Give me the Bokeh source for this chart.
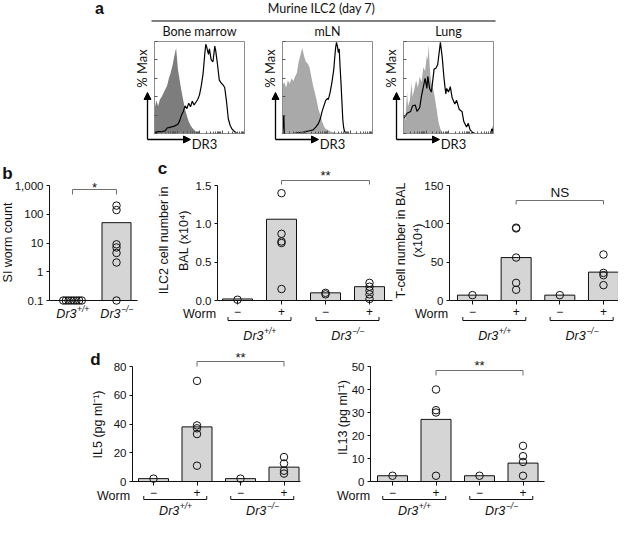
import numpy as np
from bokeh.plotting import figure
from bokeh.models import (Range1d, LinearAxis, LogAxis, FixedTicker, Arrow,
                          NormalHead, Spacer, PrintfTickFormatter)
from bokeh.layouts import column, row
from bokeh.core.properties import value
from bokeh.embed import file_html
from bokeh.resources import INLINE

# ---------------- data ----------------
# panel a: DR3 histograms (x: % of DR3 axis width, y: % Max)
hist_titles = ["Bone marrow", "mLN", "Lung"]
bm_iso_x = [0, 2, 4, 6, 8, 10, 12, 14, 16, 18, 20, 22, 24, 25, 26, 28, 30, 32, 34, 36, 38, 40, 42, 44, 46, 48, 50]
bm_iso_y = [26, 36, 30, 37, 40, 44, 48, 52, 60, 66, 74, 84, 93, 82, 70, 58, 46, 36, 26, 19, 13, 9, 6, 4, 2, 1, 0]
bm_dr3_x = [0, 4, 8, 12, 14, 18, 22, 26, 28, 30, 32, 34, 36, 38, 40, 42, 44, 46, 48, 50, 52, 54, 56, 57, 58, 60,
            61, 63, 65, 67, 68, 70, 72, 74, 76, 78, 80, 82, 84, 86, 88, 90, 92, 100]
bm_dr3_y = [1, 2, 2, 3, 6, 7, 8, 10, 14, 20, 24, 30, 27, 33, 29, 35, 31, 34, 37, 42, 52, 65, 88, 97, 94, 86,
            92, 80, 78, 95, 90, 75, 58, 55, 53, 50, 35, 16, 9, 5, 3, 1, 0, 0]
mln_iso_x = [0, 2, 4, 6, 8, 10, 12, 14, 16, 18, 20, 22, 24, 26, 28, 30, 32, 34, 36, 38, 40, 42, 44, 46, 48, 50, 54, 58, 60]
mln_iso_y = [52, 56, 50, 58, 54, 60, 57, 62, 66, 78, 86, 93, 84, 78, 76, 72, 62, 52, 44, 36, 26, 20, 13, 8, 5, 4, 2, 1, 0]
mln_dr3_x = [0, 1, 1.5, 2, 6, 12, 18, 22, 26, 30, 34, 37, 40, 42, 44, 46, 48, 50, 51, 53, 55, 57, 58, 59, 60, 61,
             62, 63, 64, 65, 66, 67, 68, 69, 71, 80, 100]
mln_dr3_y = [0, 18, 20, 0, 0, 0, 1, 1, 2, 3, 4, 7, 11, 16, 24, 30, 36, 38, 37, 45, 56, 70, 82, 93, 99, 95,
             88, 92, 72, 55, 35, 15, 6, 2, 0, 0, 0]
lung_iso_x = [0, 2, 4, 5, 7, 9, 10, 12, 14, 16, 18, 20, 22, 24, 26, 27, 28, 29, 30, 31, 33, 35, 37, 39, 41, 43, 45]
lung_iso_y = [20, 14, 45, 30, 36, 55, 40, 48, 58, 50, 62, 56, 72, 68, 85, 80, 97, 75, 62, 55, 48, 38, 25, 12, 5, 1, 0]
lung_dr3_x = [0, 4, 8, 10, 13, 15, 18, 20, 24, 26, 27, 29, 31, 34, 36, 38, 41, 43, 45, 47, 48, 50, 52, 54, 57,
              59, 62, 65, 67, 70, 72, 74, 77, 80, 90, 97, 98, 99, 100]
lung_dr3_y = [16, 22, 24, 30, 31, 24, 28, 41, 60, 49, 62, 49, 45, 70, 71, 75, 99, 83, 60, 43, 49, 45, 51, 39, 32,
              36, 26, 24, 13, 7, 11, 4, 1, 0, 0, 0, 5, 2, 8]

# panel b: SI worm count (log scale)
b_sup = ["+/+", "\u2212/\u2212"]
b_bar = [0.1, 51]
b_wt_points = [0.1, 0.1, 0.1, 0.1, 0.1, 0.1, 0.1, 0.1]
b_ko_points = [200, 140, 9, 7, 4.5, 2.1, 0.1]
b_ticks = [0.1, 1, 10, 100, 1000]
b_tick_labels = ["0.1", "1", "10", "100", "1,000"]

# panels c, d: four groups (worm -, +) x (Dr3+/+, Dr3-/-)
worm_labels = ["\u2212", "+", "\u2212", "+"]
geno_sup = ["+/+", "\u2212/\u2212"]
ilc2_bars = [0.02, 1.06, 0.10, 0.18]
ilc2_points = [[0.01], [1.40, 0.87, 0.77, 0.75, 0.15], [0.10, 0.08], [0.23, 0.18, 0.13, 0.08, 0.02]]
tcell_bars = [7, 56, 7, 37]
tcell_points = [[7], [95, 94, 56, 23, 14], [7], [60, 36, 33, 20]]
il5_bars = [2, 38, 2, 10]
il5_points = [[2], [70, 39, 37, 33, 11], [2], [17, 12.5, 7.5, 5.5]]
il13_bars = [2.5, 27, 2.5, 8]
il13_points = [[2.5], [40, 31, 30, 2.5], [2.5], [15.5, 11, 8.5, 2.5]]

# ---------------- styling helpers ----------------
FONT = "Liberation Sans"
HFONT = "Lato"
INK = "#111111"
BAR = "#d5d5d5"
SIG = "#6f6f6f"
STAR_UP = 3.0   # asterisk glyph sits above the text middle


def base_fig(w, h, xr, yr, ylog=False):
    p = figure(width=int(w), height=int(h), x_range=xr, y_range=yr,
               x_axis_type=None, y_axis_type=("log" if ylog else None),
               y_axis_location=None, output_backend="svg", toolbar_location=None,
               title=None, min_border=0, outline_line_color=None,
               background_fill_color="white", border_fill_color="white")
    p.grid.visible = False
    return p


def txt(p, x, y, s, size="12px", font=FONT, align="center", baseline="middle",
        angle=0.0, style="normal", color=INK, x_off=0, y_off=0):
    p.text(x=[x], y=[y], text=[s], text_font=value(font), text_font_size=size,
           text_align=align, text_baseline=baseline, angle=angle,
           text_font_style=style, text_color=color, x_offset=x_off, y_offset=y_off)


def geno(p, x, y, sup):
    txt(p, x, y, "Dr3", size="12.5px", style="italic", align="right", x_off=4)
    txt(p, x, y, sup, size="8.5px", style="italic", align="left", x_off=4.5, y_off=-4.5)


def axis_style(ax, size="11.5px"):
    ax.axis_line_color = INK
    ax.axis_line_width = 1
    ax.major_tick_line_color = INK
    ax.major_tick_in = 0
    ax.major_tick_out = 3
    ax.minor_tick_in = 0
    ax.minor_tick_out = 0
    ax.major_label_text_font = FONT
    ax.major_label_text_font_size = size
    ax.major_label_text_color = INK
    ax.major_label_standoff = 3


# ---------------- panel a ----------------
HDR_H = 22
ROW1_H = 152


def hist_panel(fx0, fx1, bl, title, iso_x, iso_y, dr3_x, dr3_y, iso_color):
    BW, BT, BB, FY0, FY1 = 90.0, 41.0, 133.0, float(HDR_H), float(ROW1_H)
    sx, sy = BW / 100.0, (BB - BT) / 100.0
    X = lambda px: (px - bl) / sx
    Y = lambda py: (BB - py) / sy
    p = base_fig(fx1 - fx0, FY1 - FY0, Range1d(X(fx0), X(fx1)), Range1d(Y(FY1), Y(FY0)))
    p.varea(x=iso_x, y1=0, y2=iso_y, fill_color=iso_color)
    p.line(x=dr3_x, y=dr3_y, line_color="black", line_width=1.2)
    box = "#8d8d8d"
    minor = [d + 25 * np.log10(k) for d in (0, 25, 50, 75) for k in range(2, 10)]
    bot = LinearAxis(fixed_location=0, bounds=(0, 100),
                     ticker=FixedTicker(ticks=[0, 25, 50, 75, 100], minor_ticks=minor),
                     major_label_overrides={0: "", 25: "", 50: "", 75: "", 100: ""})
    lef = LinearAxis(fixed_location=0, bounds=(0, 100),
                     ticker=FixedTicker(ticks=[0, 20, 40, 60, 80, 100], minor_ticks=[]),
                     major_label_overrides={0: "", 20: "", 40: "", 60: "", 80: "", 100: ""})
    for a in (bot, lef):
        a.axis_line_color = box
        a.major_tick_line_color = "#555555"
        a.minor_tick_line_color = "#555555"
        a.major_tick_in = 3
        a.major_tick_out = 0
        a.minor_tick_in = 2
        a.minor_tick_out = 0
    top = LinearAxis(fixed_location=100, bounds=(0, 100), ticker=FixedTicker(ticks=[], minor_ticks=[]))
    rig = LinearAxis(fixed_location=100, bounds=(0, 100), ticker=FixedTicker(ticks=[], minor_ticks=[]))
    for a in (top, rig):
        a.axis_line_color = box
    p.add_layout(bot, "below")
    p.add_layout(lef, "left")
    p.add_layout(top, "above")
    p.add_layout(rig, "right")
    head = dict(size=7, fill_color="black", line_color="black")
    p.add_layout(Arrow(end=NormalHead(**head), x_start=X(bl - 7), y_start=Y(139),
                       x_end=X(bl - 7), y_end=Y(92), line_color="black", line_width=1.3))
    p.add_layout(Arrow(end=NormalHead(**head), x_start=X(bl - 7), y_start=Y(139),
                       x_end=X(bl + 36), y_end=Y(139), line_color="black", line_width=1.3))
    txt(p, X(bl + 45), Y(30.5), title, size="12.5px", font=HFONT)
    txt(p, X(bl - 13), Y(68), "% Max", size="13px", font=HFONT, angle=np.pi / 2)
    txt(p, X(bl + 50), Y(143.5), "DR3", size="13px", font=HFONT)
    return p


header = base_fig(618, HDR_H, Range1d(0, 618), Range1d(HDR_H, 0))
txt(header, 99, 8, "a", size="16px", style="bold")
txt(header, 321, 8, "Murine ILC2 (day 7)", size="12.5px", font=HFONT)
header.segment(x0=[151], y0=[20.5], x1=[495], y1=[20.5], line_color="black", line_width=1)

HH = ROW1_H - HDR_H
h_bm = hist_panel(128, 262, 154, hist_titles[0], bm_iso_x, bm_iso_y, bm_dr3_x, bm_dr3_y, "#7d7d7d")
h_mln = hist_panel(262, 382, 282, hist_titles[1], mln_iso_x, mln_iso_y, mln_dr3_x, mln_dr3_y, "#a9a9a9")
h_lung = hist_panel(382, 510, 403, hist_titles[2], lung_iso_x, lung_iso_y, lung_dr3_x, lung_dr3_y, "#a9a9a9")
row_a = row(Spacer(width=128, height=HH), h_bm, h_mln, h_lung, Spacer(width=108, height=HH))

# ---------------- panel b (log) ----------------
R2 = (ROW1_H, 345)      # row 2 vertical extent
D2 = -3                 # row 2 vertical shift vs reference
LOG0, DEC = 303.0 + D2, 28.75
Yb = lambda py: 10 ** ((LOG0 - py) / DEC - 1)
AXB, BXB = 28.0, 44.0
Xb = lambda px: (px - AXB) / BXB
pb = base_fig(148, R2[1] - R2[0], Range1d(Xb(0), Xb(148)), Range1d(Yb(R2[1]), Yb(R2[0])), ylog=True)
pb.vbar(x=[1, 2], bottom=0.1, top=b_bar, width=29 / BXB, fill_color=BAR, line_color=INK, line_width=1)
wt_x = list(1 + np.linspace(-0.21, 0.21, len(b_wt_points)))
pb.scatter(wt_x, b_wt_points, size=7.5, marker="circle", fill_color=None, line_color=INK, line_width=1)
pb.scatter([2] * len(b_ko_points), b_ko_points, size=7.5, marker="circle", fill_color=None,
           line_color=INK, line_width=1)
yb = LogAxis(fixed_location=Xb(49), bounds=(b_ticks[0], b_ticks[-1]),
             ticker=FixedTicker(ticks=b_ticks, minor_ticks=[]),
             major_label_overrides=dict(zip(b_ticks, b_tick_labels)))
axis_style(yb)
pb.add_layout(yb, "left")
xb = LinearAxis(fixed_location=0.1, bounds=(Xb(49), Xb(137)), ticker=FixedTicker(ticks=[], minor_ticks=[]))
axis_style(xb)
pb.add_layout(xb, "below")
for i, sup in enumerate(b_sup):
    geno(pb, i + 1, Yb(316 + D2), sup)
txt(pb, Xb(7), Yb(245 + D2), "SI worm count", size="12.5px", angle=np.pi / 2)
txt(pb, Xb(7), Yb(176 + D2), "b", size="17px", style="bold")
pb.line([1, 1, 2, 2], [Yb(197 + D2), Yb(192 + D2), Yb(192 + D2), Yb(197 + D2)], line_color=SIG, line_width=1)
txt(pb, 1.5, Yb(186.5 + D2 + STAR_UP), "*", size="13px")


# ---------------- bar panels ----------------
def bar_panel(fx, fy, xmap, ymap, y_axis_px, x_end_px, yticks, yfmt, ylabels, ylabel_py,
              worm_xy, bars, points, sig, letter=None, brk_y=320, lab_y=335):
    ax, bx = xmap
    ay, by = ymap
    X = lambda px: (px - ax) / bx
    Y = lambda py: (ay - py) / by
    p = base_fig(fx[1] - fx[0], fy[1] - fy[0], Range1d(X(fx[0]), X(fx[1])), Range1d(Y(fy[1]), Y(fy[0])))
    cats = [1, 2, 3, 4]
    p.vbar(x=cats, top=bars, bottom=0, width=30 / bx, fill_color=BAR, line_color=INK, line_width=1)
    px, py = [], []
    for c, pts in zip(cats, points):
        px += [c] * len(pts)
        py += pts
    p.scatter(px, py, size=7.5, marker="circle", fill_color=None, line_color=INK, line_width=1)
    yax = LinearAxis(fixed_location=X(y_axis_px), bounds=(0, yticks[-1]),
                     ticker=FixedTicker(ticks=yticks, minor_ticks=[]),
                     formatter=PrintfTickFormatter(format=yfmt))
    axis_style(yax)
    p.add_layout(yax, "left")
    xax = LinearAxis(fixed_location=0, bounds=(X(y_axis_px), X(x_end_px)),
                     ticker=FixedTicker(ticks=cats, minor_ticks=[]),
                     major_label_overrides=dict(zip(cats, worm_labels)))
    axis_style(xax, size="12px")
    xax.major_tick_out = 4
    xax.major_label_standoff = 2
    p.add_layout(xax, "below")
    for s, lx in ylabels:
        txt(p, X(lx), Y(ylabel_py), s, size="12.5px", angle=np.pi / 2)
    txt(p, X(worm_xy[0]), Y(worm_xy[1]), "Worm", size="12.5px")
    hw = 31.5 / bx
    groups = [1.5, 3.5]
    p.multi_line([[g - hw, g - hw, g + hw, g + hw] for g in groups],
                 [[Y(brk_y - 3.5), Y(brk_y), Y(brk_y), Y(brk_y - 3.5)] for g in groups],
                 line_color=INK, line_width=1)
    for g, sup in zip(groups, geno_sup):
        geno(p, g, Y(lab_y), sup)
    c0, c1, s_y, drop, s_text, s_size, s_mid = sig
    p.line([c0, c0, c1, c1], [Y(s_y + drop), Y(s_y), Y(s_y), Y(s_y + drop)], line_color=SIG, line_width=1)
    txt(p, (c0 + c1) / 2, Y(s_mid), s_text, size=s_size)
    if letter:
        txt(p, X(letter[1]), Y(letter[2]), letter[0], size="17px", style="bold")
    return p


p_cl = bar_panel((148, 393), R2, (193.0, 44.0), (303.0 + D2, 115 / 1.5), 217, 392,
                 [0, 0.5, 1.0, 1.5], "%.1f",
                 [("ILC2 cell number in", 163), ("BAL (x10\u2074)", 183)], 243 + D2,
                 (199, 316 + D2), ilc2_bars, ilc2_points,
                 (2, 4, 183 + D2, 4, "**", "13px", 174.5 + D2 + STAR_UP),
                 letter=("c", 162, 171 + D2))
p_cr = bar_panel((393, 618), R2, (428.3, 43.67), (303.0 + D2, 115 / 150), 449, 617,
                 [0, 50, 100, 150], "%d",
                 [("T-cell number in BAL", 400), ("(x10\u2074)", 417)], 243 + D2,
                 (431, 316 + D2), tcell_bars, tcell_points,
                 (2, 4, 203 + D2, 4, "NS", "13.5px", 194.5 + D2))

R3 = (345, 517)
D3 = -13
p_dl = bar_panel((0, 330), R3, (109.5, 43.5), (494.0 + D3, 115 / 80), 132, 300,
                 [0, 20, 40, 60, 80], "%d",
                 [("IL5 (pg ml\u207b\u00b9)", 97)], 437 + D3,
                 (113, 508 + D3), il5_bars, il5_points,
                 (2, 4, 374 + D3, 5, "**", "13px", 367 + D3 + STAR_UP),
                 letter=("d", 95, 372 + D3), brk_y=499, lab_y=510)
p_dr = bar_panel((330, 618), R3, (348.5, 43.5), (494.0 + D3, 2.3), 370, 544,
                 [0, 10, 20, 30, 40, 50], "%d",
                 [("IL13 (pg ml\u207b\u00b9)", 342)], 430 + D3,
                 (353, 508 + D3), il13_bars, il13_points,
                 (2, 4, 383 + D3, 5, "**", "13px", 375 + D3 + STAR_UP),
                 brk_y=499, lab_y=510)

layout = column(header, row_a, row(pb, p_cl, p_cr), row(p_dl, p_dr))
open("out.html", "w").write(file_html(layout, INLINE))
